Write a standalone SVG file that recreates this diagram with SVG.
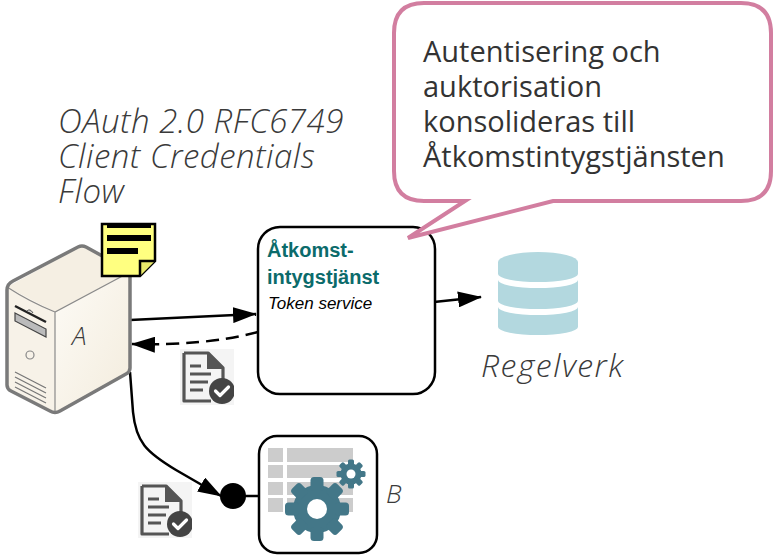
<svg xmlns="http://www.w3.org/2000/svg" xmlns:xlink="http://www.w3.org/1999/xlink" width="774" height="555" viewBox="0 0 774 555">
  <style>
    .label { font-family: "Open Sans", "DejaVu Sans", sans-serif; font-style: italic; font-weight: 300; fill: #3a3a3a; }
    .callout-text { font-family: "Open Sans", "DejaVu Sans", sans-serif; font-size: 29px; fill: #333; }
    .box { fill: #fff; stroke: #000; stroke-width: 2.5; }
    .conn { fill: none; stroke: #000; stroke-width: 2.5; }
    .title { font-family: "Liberation Sans", Arial, sans-serif; font-weight: bold; font-size: 20px; fill: #0b6b6b; }
    .sub { font-family: "Liberation Sans", Arial, sans-serif; font-style: italic; font-size: 17px; fill: #000; }
    .gear { fill: #437788; }
  </style>
  <defs>
    <marker id="arrow" markerUnits="userSpaceOnUse" markerWidth="24" markerHeight="16" refX="23" refY="8" orient="auto">
      <path d="M0,0 L24,8 L0,16 Z" fill="#000"/>
    </marker>
    <linearGradient id="front" x1="0" y1="0" x2="1" y2="1">
      <stop offset="0" stop-color="#fdfbf6"/>
      <stop offset="1" stop-color="#f3ecdd"/>
    </linearGradient>
    <!-- document with check badge -->
    <symbol id="doc" viewBox="0 0 54 56" width="54" height="56">
      <rect x="0" y="0" width="54" height="56" fill="#f4f4f4"/>
      <path d="M4,4 H28 L43,19 V30 M31,52 H4 V4" fill="none" stroke="#555" stroke-width="3.2" stroke-linejoin="round"/>
      <path d="M27,4 V20 H43 Z" fill="#555"/>
      <path d="M10,17 H21 M10,25 H31 M10,33 H28 M10,41 H23" stroke="#555" stroke-width="3" fill="none"/>
      <circle cx="42" cy="42" r="13" fill="#444"/>
      <path d="M35.5,42 L40,46.5 L48.5,38" fill="none" stroke="#fff" stroke-width="3.2" stroke-linecap="round" stroke-linejoin="round"/>
    </symbol>
    <!-- gear teeth -->
    <rect id="toothBig" x="-6.5" y="-32" width="13" height="14" rx="3.5"/>
    <rect id="toothSmall" x="-3" y="-14.5" width="6" height="7" rx="1.6"/>
  </defs>

  <rect width="774" height="555" fill="#fff"/>

  <!-- heading -->
  <g id="heading">
    <text class="label" font-size="33" letter-spacing="0.5">
      <tspan x="58" y="133">OAuth 2.0 RFC6749</tspan>
      <tspan x="58" y="168">Client Credentials</tspan>
      <tspan x="58" y="203">Flow</tspan>
    </text>
  </g>

  <!-- connectors -->
  <g id="connectors">
    <path class="conn" d="M130,320 L256,314" marker-end="url(#arrow)"/>
    <path class="conn" d="M258,332 Q205,346 132,344" stroke-dasharray="13 7" marker-end="url(#arrow)"/>
    <path class="conn" d="M434,302 L481,297" marker-end="url(#arrow)"/>
    <path class="conn" d="M130,372 L133,412 C136,442 146,452 176,470 L221,496" marker-end="url(#arrow)"/>
    <path class="conn" d="M244,496 H259"/>
    <circle cx="233" cy="496" r="13" fill="#000"/>
  </g>

  <!-- client A: server -->
  <g id="client-a">
    <path d="M7,287 L82,246 L130,272 L55,312 Z" fill="#f5efe3"/>
    <path d="M7,287 L55,312 L55,413 L7,390 Z" fill="#f7f2e8"/>
    <path d="M55,312 L130,272 L130,372 L55,413 Z" fill="url(#front)"/>
    <path d="M7,287 Q30,302 55,312 L130,272 M55,312 V413" fill="none" stroke="#8a8a8a" stroke-width="1.2"/>
    <path d="M7,290 Q7,284 13,281 L78,247 Q82,245 86,247 L126,269 Q130,271 130,276 V368 Q130,372 126,374 L60,411 Q55,414 50,411 L11,391 Q7,389 7,385 Z" fill="none" stroke="#7a7a7a" stroke-width="3.5" stroke-linejoin="round"/>
    <path d="M15,306 L46,322" stroke="#222" stroke-width="2.4"/>
    <path d="M27,311 Q30,308 33,313" fill="#ccc" stroke="#555" stroke-width="1"/>
    <path d="M15,313 L46,329 L46,337 L15,321 Z" fill="#bbb" stroke="#444" stroke-width="1.2"/>
    <circle cx="30" cy="355" r="4" fill="none" stroke="#888" stroke-width="1.2"/>
    <path d="M15,372 L46,388 M15,377 L46,393 M15,382 L46,398 M15,387 L46,403" stroke="#777" stroke-width="1.3"/>
    <text class="label" x="72" y="345" font-size="26">A</text>
    <!-- sticky note -->
    <path d="M102,224 H155 V261 L140,276 H102 Z" fill="#ffff80" stroke="#000" stroke-width="2.5" stroke-linejoin="miter"/>
    <path d="M140,276 V261 H155" fill="#e9e96c" stroke="#000" stroke-width="2.5"/>
    <rect x="107" y="224" width="44" height="4" fill="#000"/>
    <rect x="107" y="235" width="44" height="6" fill="#000"/>
    <rect x="107" y="248" width="31" height="6" fill="#000"/>
  </g>

  <!-- token service -->
  <g id="token-service">
    <rect class="box" x="258" y="227" width="177" height="167" rx="22"/>
    <text class="title" x="267" y="257">Åtkomst-</text>
    <text class="title" x="267" y="284">intygstjänst</text>
    <text class="sub" x="268" y="309">Token service</text>
  </g>

  <!-- token document icons -->
  <g id="token-1"><use xlink:href="#doc" x="180" y="349" width="54" height="56"/></g>
  <g id="token-2"><use xlink:href="#doc" x="138" y="482" width="54" height="56"/></g>

  <!-- rule store -->
  <g id="regelverk">
    <g fill="#b3d8df">
      <path d="M498,262 A40,10 0 0 1 578,262 V274 A40,8 0 0 1 498,274 Z"/>
      <path d="M498,280 A40,8 0 0 0 578,280 V301 A40,8 0 0 1 498,301 Z"/>
      <path d="M498,307 A40,8 0 0 0 578,307 V327 A40,8 0 0 1 498,327 Z"/>
    </g>
    <text class="label" x="481" y="377" font-size="32" letter-spacing="1.5">Regelverk</text>
  </g>

  <!-- resource server B -->
  <g id="resource-b">
    <rect class="box" x="259" y="436" width="118" height="117" rx="18"/>
    <g fill="#cccccc">
      <rect x="268" y="448" width="15" height="14"/>
      <rect x="287" y="448" width="66" height="14"/>
      <rect x="268" y="465" width="15" height="13"/>
      <rect x="287" y="465" width="66" height="13"/>
      <rect x="268" y="482" width="15" height="13"/>
      <rect x="287" y="482" width="66" height="13"/>
      <rect x="268" y="498" width="15" height="14"/>
      <rect x="287" y="498" width="66" height="14"/>
    </g>
    <g class="gear" transform="translate(317,509)">
      <circle r="24"/>
      <use href="#toothBig"/>
      <use href="#toothBig" transform="rotate(45)"/>
      <use href="#toothBig" transform="rotate(90)"/>
      <use href="#toothBig" transform="rotate(135)"/>
      <use href="#toothBig" transform="rotate(180)"/>
      <use href="#toothBig" transform="rotate(225)"/>
      <use href="#toothBig" transform="rotate(270)"/>
      <use href="#toothBig" transform="rotate(315)"/>
      <circle r="10" fill="#fff"/>
    </g>
    <g class="gear" transform="translate(351,474)">
      <circle r="10.5"/>
      <use href="#toothSmall"/>
      <use href="#toothSmall" transform="rotate(45)"/>
      <use href="#toothSmall" transform="rotate(90)"/>
      <use href="#toothSmall" transform="rotate(135)"/>
      <use href="#toothSmall" transform="rotate(180)"/>
      <use href="#toothSmall" transform="rotate(225)"/>
      <use href="#toothSmall" transform="rotate(270)"/>
      <use href="#toothSmall" transform="rotate(315)"/>
      <circle r="4.5" fill="#fff"/>
    </g>
    <text class="label" x="386" y="503" font-size="26">B</text>
  </g>

  <!-- speech bubble -->
  <g id="callout">
    <path d="M424,3 H741 Q771,3 771,33 V171 Q771,201 741,201 H553 L408,238 L465,201 H424 Q394,201 394,171 V33 Q394,3 424,3 Z" fill="#fff" stroke="#d27ea0" stroke-width="4" stroke-linejoin="miter"/>
    <text class="callout-text">
      <tspan x="423" y="62">Autentisering och</tspan>
      <tspan x="423" y="97">auktorisation</tspan>
      <tspan x="423" y="132">konsolideras till</tspan>
      <tspan x="423" y="167">Åtkomstintygstjänsten</tspan>
    </text>
  </g>
</svg>
